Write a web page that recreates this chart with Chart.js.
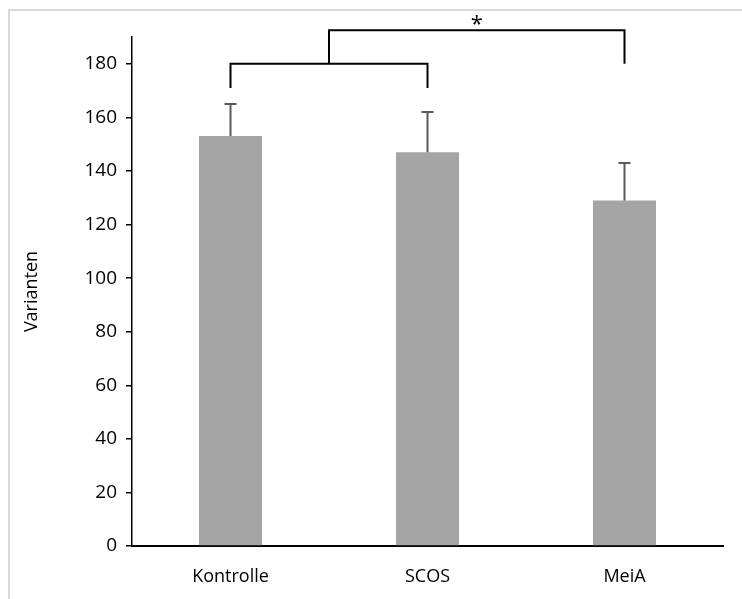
<!DOCTYPE html>
<html>
<head>
<meta charset="utf-8">
<script src="https://cdn.jsdelivr.net/npm/chart.js@4"></script>
<style>
  html, body { margin: 0; padding: 0; background: #fff; overflow: hidden; }
  #wrap { position: relative; width: 742px; height: 599px; overflow: hidden; }
  #frame { position: absolute; left: 8px; top: 9px; width: 760px; height: 620px; border: 2px solid #d9d9d9; }
  canvas { position: absolute; left: 0; top: 0; }
</style>
</head>
<body>
<div id="wrap">
  <div id="frame"></div>
  <canvas id="chart" width="742" height="599"></canvas>
</div>
<script>
// data
const categories = ['Kontrolle', 'SCOS', 'MeiA'];
const values = [153, 147, 129];
const errors = [12, 15, 14];
const yTicks = [0, 20, 40, 60, 80, 100, 120, 140, 160, 180];

// significance brackets (value units)
const lowBracket = { from: 0, to: 1, y: 180, legEnd: 171 };
const highBracket = { to: 2, y: 192.5, legEnd: 180 };
const sigLabel = '*';

const FONT = '"Open Sans", "Liberation Sans", sans-serif';

// upper error bars
const errorBars = {
    id: 'errorBars',
    afterDatasetsDraw(chart) {
        const ctx = chart.ctx;
        const y = chart.scales.y;
        const meta = chart.getDatasetMeta(0);
        ctx.save();
        ctx.strokeStyle = '#595959';
        ctx.lineWidth = 2;
        meta.data.forEach((bar, i) => {
            const top = y.getPixelForValue(values[i] + errors[i]);
            ctx.beginPath();
            ctx.moveTo(bar.x, bar.y);
            ctx.lineTo(bar.x, top);
            ctx.moveTo(bar.x - 6, top);
            ctx.lineTo(bar.x + 6, top);
            ctx.stroke();
        });
        ctx.restore();
    }
};

// brackets with the star
const brackets = {
    id: 'brackets',
    afterDraw(chart) {
        const ctx = chart.ctx;
        const x = chart.scales.x;
        const y = chart.scales.y;
        const x0 = x.getPixelForValue(lowBracket.from);
        const x1 = x.getPixelForValue(lowBracket.to);
        const xm = (x0 + x1) / 2;
        const x2 = x.getPixelForValue(highBracket.to);
        const yl = y.getPixelForValue(lowBracket.y);
        const yle = y.getPixelForValue(lowBracket.legEnd);
        const yh = y.getPixelForValue(highBracket.y);
        const yhe = y.getPixelForValue(highBracket.legEnd);
        ctx.save();
        ctx.strokeStyle = '#000';
        ctx.lineWidth = 2;
        ctx.beginPath();
        ctx.moveTo(x0, yle);
        ctx.lineTo(x0, yl);
        ctx.lineTo(x1, yl);
        ctx.lineTo(x1, yle);
        ctx.moveTo(xm, yl);
        ctx.lineTo(xm, yh);
        ctx.lineTo(x2, yh);
        ctx.lineTo(x2, yhe);
        ctx.stroke();
        ctx.fillStyle = '#000';
        ctx.font = '22px ' + FONT;
        ctx.textAlign = 'center';
        ctx.textBaseline = 'middle';
        ctx.fillText(sigLabel, (xm + x2) / 2, yh - 6);
        ctx.restore();
    }
};

new Chart(document.getElementById('chart'), {
    type: 'bar',
    data: {
        labels: categories,
        datasets: [{
            data: values,
            backgroundColor: '#a5a5a5',
            categoryPercentage: 1,
            barPercentage: 0.32
        }]
    },
    options: {
        responsive: false,
        animation: false,
        layout: { padding: { top: 37, right: 19, left: 0, bottom: 0 } },
        plugins: { legend: { display: false }, tooltip: { enabled: false } },
        scales: {
            x: {
                grid: { drawOnChartArea: false, drawTicks: false },
                border: { color: '#000', width: 2 },
                ticks: { color: '#000', padding: 20, font: { family: FONT, size: 18 } },
                afterFit(s) { s.height = 53; }
            },
            y: {
                min: 0,
                max: 190,
                afterBuildTicks(s) { s.ticks = yTicks.map(v => ({ value: v })); },
                grid: { drawOnChartArea: false, drawTicks: true, tickLength: 6, color: '#000', lineWidth: 1.5 },
                border: { color: '#000', width: 1.5 },
                ticks: { color: '#000', padding: 9, font: { family: FONT, size: 19 } },
                title: { display: true, text: 'Varianten', color: '#000', padding: { top: 21 }, font: { family: FONT, size: 18 } },
                afterFit(s) { s.width = 132; }
            }
        }
    },
    plugins: [errorBars, brackets]
});
</script>
</body>
</html>
